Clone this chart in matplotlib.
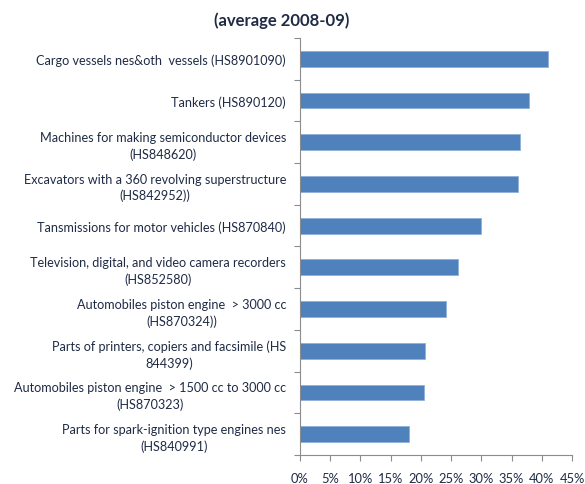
import matplotlib
matplotlib.use("Agg")
import matplotlib.pyplot as plt
from matplotlib.ticker import FixedLocator, FuncFormatter

plt.rcParams['font.family'] = ['Lato', 'DejaVu Sans']

# Products, top to bottom
categories = [
    "Cargo vessels nes&oth  vessels (HS8901090)",
    "Tankers (HS890120)",
    "Machines for making semiconductor devices\n(HS848620)",
    "Excavators with a 360 revolving superstructure\n(HS842952))",
    "Tansmissions for motor vehicles (HS870840)",
    "Television, digital, and video camera recorders\n(HS852580)",
    "Automobiles piston engine  > 3000 cc\n(HS870324))",
    "Parts of printers, copiers and facsimile (HS\n844399)",
    "Automobiles piston engine  > 1500 cc to 3000 cc\n(HS870323)",
    "Parts for spark-ignition type engines nes\n(HS840991)",
]
# Share, in percent
values = [41.0, 37.9, 36.4, 36.1, 29.9, 26.1, 24.1, 20.6, 20.5, 18.1]
x_ticks = [0, 5, 10, 15, 20, 25, 30, 35, 40, 45]
title = "(average 2008-09)"

text_color = "#1f2b45"
bar_color = "#4f81bd"
axis_color = "#8c8c8c"

fig = plt.figure(figsize=(5.85, 4.85), dpi=100)
ax = fig.add_axes([0.5128, 0.0598, 0.4650, 0.8598])

n = len(categories)
ypos = list(range(n))
ax.barh(ypos, values, height=0.38, color=bar_color,
        edgecolor="#8fb0d8", linewidth=0.6, zorder=2)

ax.set_xlim(0, 45)
ax.set_ylim(n - 0.5, -0.5)

ax.xaxis.set_major_locator(FixedLocator(x_ticks))
ax.xaxis.set_major_formatter(FuncFormatter(lambda v, p: f"{v:.0f}%"))
ax.tick_params(axis='x', which='major', length=4, width=0.8, color=axis_color,
               labelsize=9.3, labelcolor=text_color, pad=8)

# Ticks between categories, labels centred on each bar
ax.yaxis.set_major_locator(FixedLocator([i - 0.5 for i in range(n + 1)]))
ax.yaxis.set_major_formatter(FuncFormatter(lambda v, p: ""))
ax.yaxis.set_minor_locator(FixedLocator(ypos))
ax.set_yticklabels(categories, minor=True)
ax.tick_params(axis='y', which='major', length=4, width=0.8, color=axis_color)
ax.tick_params(axis='y', which='minor', length=0, labelsize=9.1,
               labelcolor=text_color, pad=10)
for lbl in ax.get_yticklabels(minor=True):
    lbl.set_multialignment('center')
    lbl.set_linespacing(1.4)

for side in ("top", "right"):
    ax.spines[side].set_visible(False)
for side in ("left", "bottom"):
    ax.spines[side].set_color(axis_color)
    ax.spines[side].set_linewidth(0.8)

fig.text(0.482, 0.958, title, ha='center', va='center', fontsize=12,
         fontweight='bold', color=text_color)

fig.savefig("out.png", dpi=100, facecolor="white")
